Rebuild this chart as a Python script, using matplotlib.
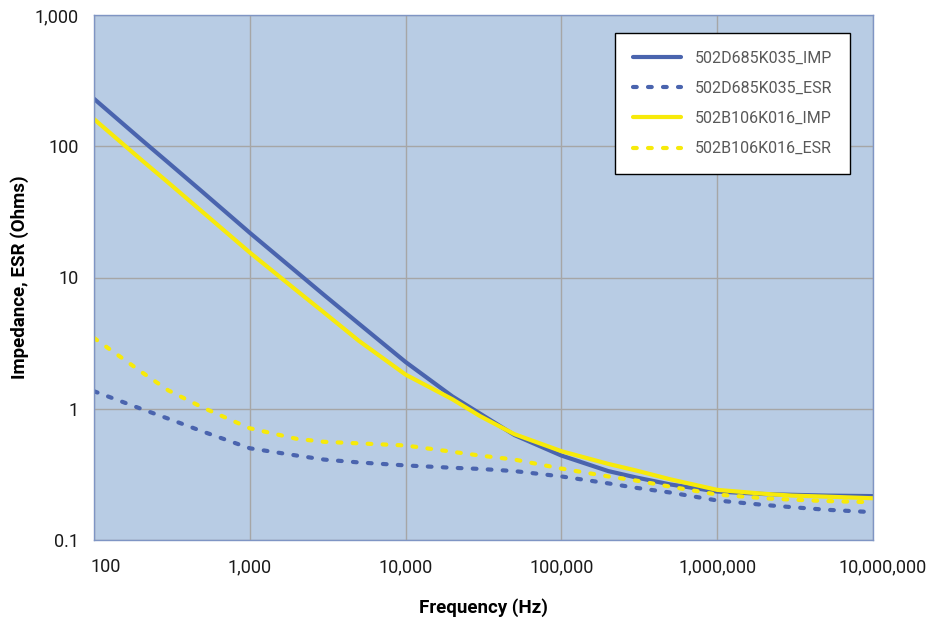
import matplotlib.pyplot as plt
import matplotlib.transforms as mtransforms
from matplotlib.ticker import FixedLocator, NullLocator

# values
freq = [100, 200, 300, 500, 1e3, 2e3, 3e3, 5e3, 1e4, 2e4, 3e4, 5e4, 1e5, 2e5, 3e5, 5e5, 1e6, 2e6, 3e6, 5e6, 1e7]
d685_imp = [230, 113, 75, 44.6, 21.9, 11.0, 7.35, 4.46, 2.27, 1.24, 0.92, 0.63, 0.44, 0.335, 0.30, 0.265, 0.234, 0.224, 0.221, 0.218, 0.216]
d685_esr = [1.36, 1.0, 0.84, 0.67, 0.50, 0.44, 0.41, 0.39, 0.37, 0.355, 0.348, 0.335, 0.305, 0.27, 0.25, 0.23, 0.20, 0.185, 0.178, 0.17, 0.163]
b106_imp = [161, 79.3, 52.8, 31.4, 15.5, 7.95, 5.4, 3.3, 1.82, 1.18, 0.88, 0.64, 0.475, 0.38, 0.339, 0.29, 0.241, 0.225, 0.218, 0.214, 0.208]
b106_esr = [3.46, 1.92, 1.38, 1.02, 0.71, 0.59, 0.56, 0.545, 0.525, 0.47, 0.44, 0.41, 0.35, 0.305, 0.284, 0.255, 0.222, 0.208, 0.203, 0.198, 0.194]

x_ticks = [100, 1e3, 1e4, 1e5, 1e6, 1e7]
x_labels = ["100", "1,000", "10,000", "100,000", "1,000,000", "10,000,000"]
y_ticks = [0.1, 1, 10, 100, 1000]
y_labels = ["0.1", "1", "10", "100", "1,000"]

blue = "#4A64AE"
yellow = "#F7EA0A"
dots = (0, (0.9, 2.7))

plt.rcParams["font.family"] = ["Roboto", "DejaVu Sans"]

fig = plt.figure(figsize=(9.26, 6.26), dpi=100)
ax = fig.add_axes([94 / 926, 1 - 540 / 626, (873 - 94) / 926, (540 - 15) / 626])
ax.set_facecolor("#B8CCE4")

ax.plot(freq, d685_imp, color=blue, lw=3, label="502D685K035_IMP", solid_capstyle="round")
ax.plot(freq, d685_esr, color=blue, lw=3, ls=dots, dash_capstyle="round", label="502D685K035_ESR")
ax.plot(freq, b106_imp, color=yellow, lw=3, label="502B106K016_IMP", solid_capstyle="round")
ax.plot(freq, b106_esr, color=yellow, lw=3, ls=dots, dash_capstyle="round", label="502B106K016_ESR")

ax.set_xscale("log")
ax.set_yscale("log")
ax.set_xlim(100, 1e7)
ax.set_ylim(0.1, 1000)
ax.xaxis.set_major_locator(FixedLocator(x_ticks))
ax.xaxis.set_minor_locator(NullLocator())
ax.yaxis.set_major_locator(FixedLocator(y_ticks))
ax.yaxis.set_minor_locator(NullLocator())
ax.set_xticklabels(x_labels)
ax.set_yticklabels(y_labels)
ax.tick_params(length=0, labelsize=13, labelcolor="#1a1a1a")
ax.tick_params(axis="x", pad=13)
ax.tick_params(axis="y", pad=11)

# end labels are pushed right like in the original
labs = ax.get_xticklabels()
labs[0].set_transform(labs[0].get_transform() + mtransforms.ScaledTranslation(0.12, 0, fig.dpi_scale_trans))
labs[-1].set_transform(labs[-1].get_transform() + mtransforms.ScaledTranslation(0.10, 0, fig.dpi_scale_trans))

ax.grid(True, color="#A6A6A6", lw=1)
ax.set_axisbelow(True)
for s in ax.spines.values():
    s.set_color("#7F95C4")
    s.set_linewidth(1)

ax.set_xlabel("Frequency (Hz)", fontsize=13.5, fontweight="bold", labelpad=16)
ax.set_ylabel("Impedance, ESR (Ohms)", fontsize=13.5, fontweight="bold", labelpad=4)

leg = ax.legend(loc="upper right", bbox_to_anchor=(0.9705, 0.9655), fontsize=11.5, frameon=True,
                fancybox=False, edgecolor="black", framealpha=1, borderpad=1.1,
                labelspacing=0.95, handlelength=3.0, handletextpad=0.9, borderaxespad=0)
leg.get_frame().set_linewidth(1)
for t in leg.get_texts():
    t.set_color("#595959")

fig.savefig("out.png", dpi=100)
